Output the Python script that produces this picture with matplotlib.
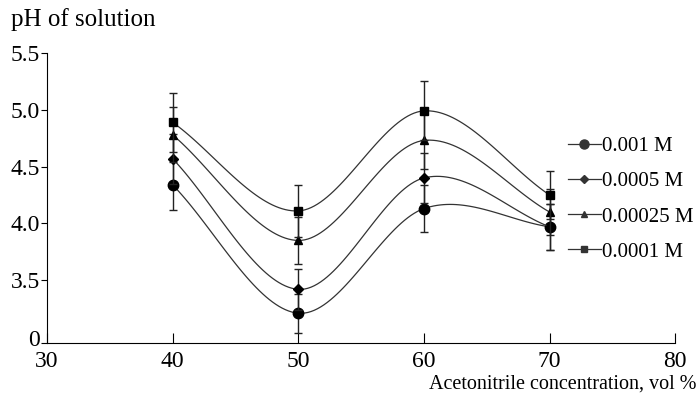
import numpy as np
import matplotlib
matplotlib.use("Agg")
import matplotlib.pyplot as plt
import matplotlib.transforms as mtransforms

plt.rcParams['font.family'] = ['Liberation Serif', 'DejaVu Serif']

# data
conc = [40, 50, 60, 70]
series_names = ['0.001 M', '0.0005 M', '0.00025 M', '0.0001 M']
ph_0001 = [4.34, 3.21, 4.13, 3.97]
ph_00005 = [4.57, 3.42, 4.40, 3.97]
ph_000025 = [4.78, 3.85, 4.73, 4.10]
ph_00001 = [4.89, 4.11, 4.99, 4.25]
err_0001 = [0.22, 0.17, 0.21, 0.20]
err_00005 = [0.22, 0.18, 0.22, 0.20]
err_000025 = [0.24, 0.21, 0.25, 0.20]
err_00001 = [0.26, 0.23, 0.26, 0.21]
y_ticks = [3.5, 4.0, 4.5, 5.0, 5.5]
y_bottom = 2.947  # broken axis, labelled "0"

markers = ['o', 'D', '^', 's']
msizes = [7.5, 5.5, 5.5, 6]
leg_sizes = [6.5, 4.5, 4.5, 5]


def smooth(x, y, n=40):
    # Catmull-Rom style smoothing (like spreadsheet smoothed lines)
    x = np.asarray(x, float)
    y = np.asarray(y, float)
    px = np.concatenate([[2 * x[0] - x[1]], x, [2 * x[-1] - x[-2]]])
    py = np.concatenate([[2 * y[0] - y[1]], y, [2 * y[-1] - y[-2]]])
    xs, ys = [], []
    t = np.linspace(0, 1, n)
    for i in range(1, len(px) - 2):
        for p, out in ((px, xs), (py, ys)):
            p0, p1, p2, p3 = p[i - 1], p[i], p[i + 1], p[i + 2]
            out.extend(0.5 * ((2 * p1) + (-p0 + p2) * t
                              + (2 * p0 - 5 * p1 + 4 * p2 - p3) * t ** 2
                              + (-p0 + 3 * p1 - 3 * p2 + p3) * t ** 3))
    return xs, ys


fig = plt.figure(figsize=(6.99, 3.98), dpi=100)
ax = fig.add_axes([0.067, 0.138, 0.899, 0.729])

all_y = [ph_0001, ph_00005, ph_000025, ph_00001]
all_e = [err_0001, err_00005, err_000025, err_00001]
for name, y, e, m, ms, ls in zip(series_names, all_y, all_e, markers, msizes, leg_sizes):
    sx, sy = smooth(conc, y)
    ax.plot(sx, sy, color='#333333', lw=0.9)
    ax.errorbar(conc, y, yerr=e, fmt='none', ecolor='#222222', elinewidth=1.0,
                capsize=3, capthick=1.0)
    ax.plot(conc, y, linestyle='none', marker=m, color='black', ms=ms)
    ax.plot([], [], color='#333333', lw=0.9, marker=m, ms=ls, label=name)

ax.set_xlim(30, 80)
ax.set_ylim(y_bottom, 5.5)
ax.set_xticks([30, 40, 50, 60, 70, 80])
ax.set_yticks([y_bottom] + y_ticks)
ax.set_yticklabels(['0'] + ['%.1f' % v for v in y_ticks])
ax.spines['top'].set_visible(False)
ax.spines['right'].set_visible(False)
ax.tick_params(axis='x', direction='in', length=7, labelsize=17, pad=6)
ax.tick_params(axis='y', direction='out', length=4, labelsize=17, pad=1)

# lift the "0" label a little, as in the original
zero_lbl = ax.get_yticklabels()[0]
zero_lbl.set_transform(zero_lbl.get_transform() +
                       mtransforms.ScaledTranslation(0, 5 / 100, fig.dpi_scale_trans))

fig.text(0.016, 0.922, 'pH of solution', fontsize=18, va='bottom')
fig.text(0.996, 0.012, 'Acetonitrile concentration, vol %', fontsize=14.5,
         ha='right', va='bottom')

ax.legend(loc='upper left', bbox_to_anchor=(0.812, 0.657),
          bbox_transform=fig.transFigure, frameon=False, borderpad=0,
          borderaxespad=0, fontsize=15, handlelength=1.6, handletextpad=0.05,
          labelspacing=0.75)

fig.savefig('out.png', dpi=100)
